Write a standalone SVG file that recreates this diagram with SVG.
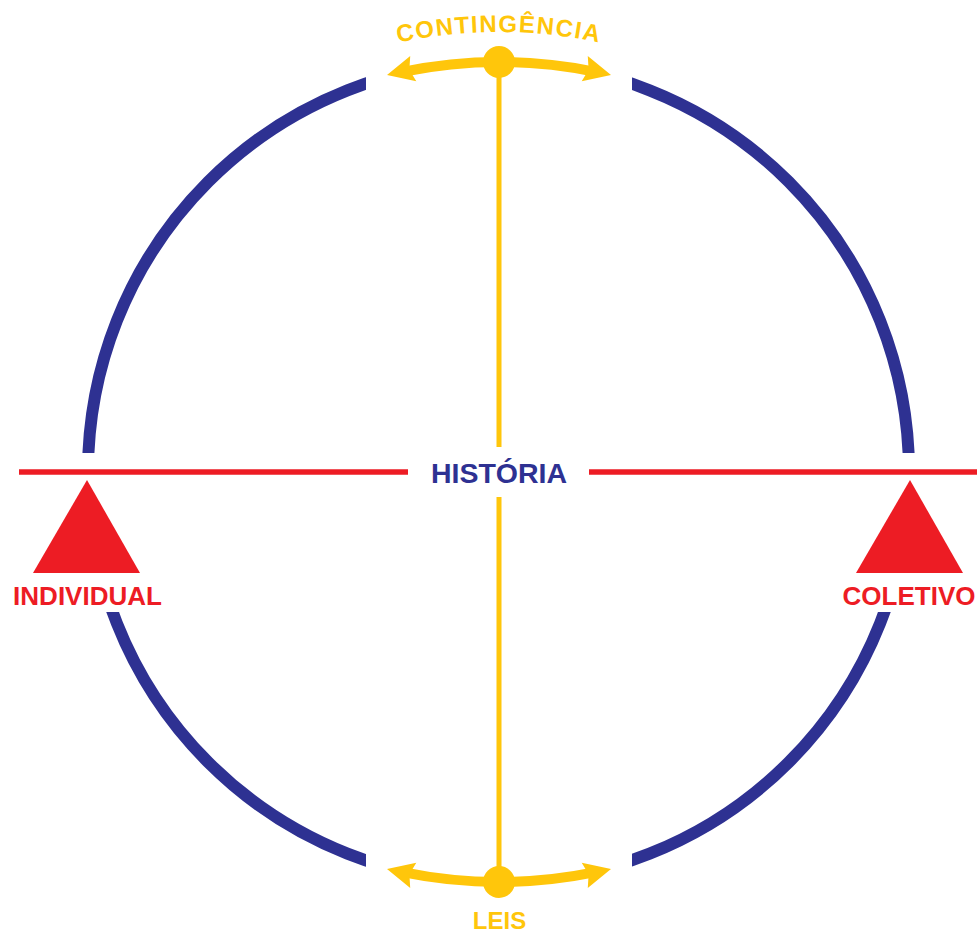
<svg xmlns="http://www.w3.org/2000/svg" width="977" height="935" viewBox="0 0 977 935">
<style>
.blue{fill:none;stroke:#2E3192;stroke-width:12}
.red{stroke:#ED1C24;stroke-width:5.5;fill:none}
.tri{fill:#ED1C24}
.ystroke{stroke:#FFC60B;fill:none}
.yfill{fill:#FFC60B}
.lbl{font-family:"Liberation Sans",Arial,sans-serif;font-weight:bold}
</style>
<defs>
<mask id="gaps">
<rect x="0" y="0" width="977" height="935" fill="#fff"/>
<rect x="366" y="0" width="266" height="200" fill="#000"/>
<rect x="366" y="740" width="266" height="195" fill="#000"/>
<rect x="0" y="453" width="200" height="159" fill="#000"/>
<rect x="780" y="453" width="197" height="159" fill="#000"/>
</mask>
<path id="arcText" d="M331.4,61.6 A490,490 0 0 1 666.6,61.6"/>
</defs>
<rect width="977" height="935" fill="#fff"/>
<g id="circle">
<circle class="blue" cx="498.5" cy="472" r="410.5" mask="url(#gaps)"/>
</g>
<g id="connectors">
<line class="red" x1="19" y1="472" x2="408" y2="472"/>
<line class="red" x1="589" y1="472" x2="977" y2="472"/>
<line class="ystroke" stroke-width="5" x1="499" y1="62" x2="499" y2="447"/>
<line class="ystroke" stroke-width="5" x1="499" y1="497" x2="499" y2="882"/>
</g>
<g id="contingencia">
<g id="top-arrow">
<path class="ystroke" stroke-width="10" d="M402.6,71.8 A480,480 0 0 1 595.4,71.8"/>
<polygon class="yfill" points="0,0 27,-13 23,0 27,13" transform="translate(387,75) rotate(-13.5)"/>
<polygon class="yfill" points="0,0 -27,-13 -23,0 -27,13" transform="translate(611,75) rotate(13.5)"/>
<circle class="yfill" cx="499" cy="62" r="16"/>
</g>
<text class="lbl yfill" font-size="24" letter-spacing="1.5"><textPath href="#arcText" startOffset="50%" text-anchor="middle">CONTINGÊNCIA</textPath></text>
</g>
<g id="leis">
<g transform="translate(0,944) scale(1,-1)">
<path class="ystroke" stroke-width="10" d="M402.6,71.8 A480,480 0 0 1 595.4,71.8"/>
<polygon class="yfill" points="0,0 27,-13 23,0 27,13" transform="translate(387,75) rotate(-13.5)"/>
<polygon class="yfill" points="0,0 -27,-13 -23,0 -27,13" transform="translate(611,75) rotate(13.5)"/>
<circle class="yfill" cx="499" cy="62" r="16"/>
</g>
<text class="lbl yfill" x="499.5" y="929" font-size="24" text-anchor="middle">LEIS</text>
</g>
<g id="historia">
<text class="lbl" x="499" y="483" font-size="28.5" fill="#2E3192" text-anchor="middle">HISTÓRIA</text>
</g>
<g id="individual">
<polygon class="tri" points="87,480 33,573 140,573"/>
<text class="lbl" x="87.5" y="605" font-size="26" fill="#ED1C24" text-anchor="middle">INDIVIDUAL</text>
</g>
<g id="coletivo">
<polygon class="tri" points="910,480 856,573 963,573"/>
<text class="lbl" x="909" y="605" font-size="26" fill="#ED1C24" text-anchor="middle">COLETIVO</text>
</g>
</svg>
